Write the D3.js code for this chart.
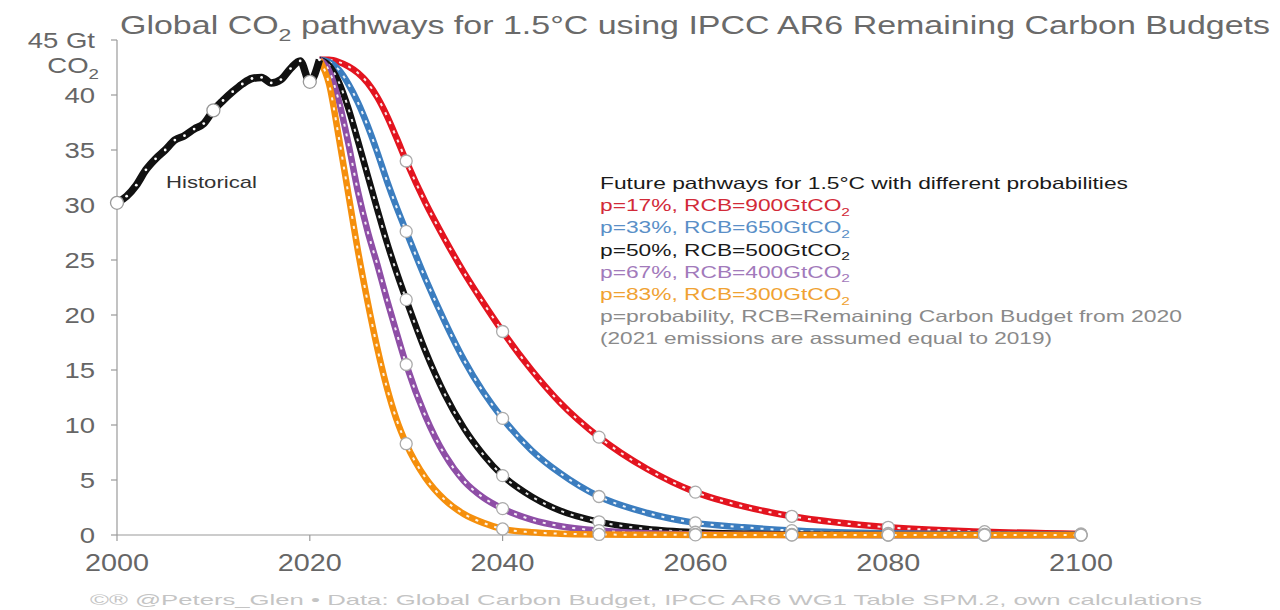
<!DOCTYPE html>
<html><head><meta charset="utf-8">
<script src="https://cdn.jsdelivr.net/npm/d3@7"></script>
<style>
html,body{margin:0;padding:0;background:#fff;}
svg{display:block;font-family:"Liberation Sans",Arial,Helvetica,sans-serif;}
</style></head>
<body>
<svg id="chart" width="1280" height="610"></svg>
<script>
// ---------------- data ----------------
const histYears = [2000,2001,2002,2003,2004,2005,2006,2007,2008,2009,2010,2011,2012,2013,2014,2015,2016,2017,2018,2019,2020,2021];
const histValues = [30.2,30.8,31.8,33.2,34.2,35.0,35.9,36.3,36.9,37.4,38.6,39.5,40.3,41.0,41.5,41.6,41.1,41.4,42.4,43.1,41.2,43.2];

const futureYears = [2021,2022,2023,2024,2025,2026,2027,2028,2029,2030,2032,2034,2036,2038,2040,2043,2046,2050,2055,2060,2065,2070,2080,2090,2100];
const p17 = [43.2,43.2,43.0,42.6,42.0,41.1,39.8,38.1,36.1,34.0,30.2,26.9,23.85,21.1,18.5,15.0,12.0,8.9,6.0,3.9,2.6,1.7,0.7,0.3,0.1];
const p33 = [43.2,43.0,42.3,41.0,39.3,37.2,34.8,32.2,29.8,27.6,23.3,19.4,15.9,13.0,10.6,7.7,5.6,3.5,2.0,1.1,0.7,0.4,0.15,0.05,0.02];
const p50 = [43.2,42.7,41.2,38.8,35.8,32.7,29.6,26.6,23.9,21.4,16.7,12.8,9.7,7.3,5.4,3.5,2.2,1.2,0.55,0.25,0.12,0.05,0.01,0,0];
const p67 = [43.2,42.2,39.5,35.6,31.2,27.6,24.6,21.4,18.4,15.5,10.8,7.3,4.9,3.4,2.4,1.4,0.8,0.4,0.15,0.06,0.02,0.01,0,0,0];
const p83 = [43.2,41.0,36.2,31.0,25.8,21.2,17.0,13.4,10.5,8.3,5.2,3.2,1.9,1.1,0.55,0.25,0.12,0.05,0.02,0.01,0,0,0,0,0];

const scenarioNames = ["p=17%, RCB=900GtCO","p=33%, RCB=650GtCO","p=50%, RCB=500GtCO","p=67%, RCB=400GtCO","p=83%, RCB=300GtCO"];
const scenarioSeries = [p17,p33,p50,p67,p83];
const lineColors = ["#e3141f","#3b7dbf","#111111","#8e4ea6","#f58f0c"];
const textColors = ["#d22a38","#5a8fc7","#1a1a1a","#a27abb","#f0a232"];

const markerYearsHist = [2000,2010,2020];
const markerYearsFuture = [2030,2040,2050,2060,2070,2080,2090,2100];

const yTicks = [0,5,10,15,20,25,30,35,40];
const xTicks = [2000,2020,2040,2060,2080,2100];

// ---------------- layout ----------------
const svg = d3.select("#chart");
const x = d3.scaleLinear().domain([2000,2100]).range([117,1081]);
const y = d3.scaleLinear().domain([0,45]).range([535,40]);

function stretch(sel, target){ // target width in px, or factor if <5
  sel.each(function(){
    const w = this.getComputedTextLength();
    const t = target < 5 ? w*target : target;
    this.setAttribute("textLength", t);
    this.setAttribute("lengthAdjust","spacingAndGlyphs");
  });
}
function rich(sel, parts, fs){
  let back = 0;
  parts.forEach(p=>{
    if (typeof p === "string") {
      const t = sel.append("tspan").text(p);
      if (back) { t.attr("dy", -back); back = 0; }
    } else {
      sel.append("tspan").attr("dy", fs*0.28).attr("font-size", fs*0.68).text(p.sub);
      back = fs*0.28;
    }
  });
}

// axes
const axisColor = "#9a9a9a";
svg.append("line").attr("x1",x(2000)).attr("x2",x(2000)).attr("y1",y(45)).attr("y2",y(0))
  .attr("stroke",axisColor).attr("stroke-width",1.2);
svg.append("line").attr("x1",x(2000)).attr("x2",x(2100)).attr("y1",y(0)).attr("y2",y(0))
  .attr("stroke",axisColor).attr("stroke-width",1.2);
[...yTicks,45].forEach(v=>{
  svg.append("line").attr("x1",x(2000)-6).attr("x2",x(2000)).attr("y1",y(v)).attr("y2",y(v))
    .attr("stroke",axisColor).attr("stroke-width",1.2);
});
xTicks.forEach(v=>{
  svg.append("line").attr("x1",x(v)).attr("x2",x(v)).attr("y1",y(0)).attr("y2",y(0)+6)
    .attr("stroke",axisColor).attr("stroke-width",1.2);
});
const yl = svg.append("g").attr("fill","#666").attr("font-size",22).attr("text-anchor","end");
yTicks.forEach(v=>{
  yl.append("text").attr("x",95).attr("y",y(v)).attr("dy","0.36em").text(v).call(stretch,1.25);
});
yl.append("text").attr("x",95).attr("y",y(45)).attr("dy","0.36em").text("45 Gt").call(stretch,1.25);
const co2 = yl.append("text").attr("x",99).attr("y",y(45)+33);
rich(co2,["CO",{sub:"2"}],22); co2.call(stretch,1.25);

const xl = svg.append("g").attr("fill","#666").attr("font-size",23).attr("text-anchor","middle");
xTicks.forEach(v=>{
  xl.append("text").attr("x",x(v)).attr("y",571).text(v).call(stretch,64);
});

// title
const title = svg.append("text").attr("x",120).attr("y",34).attr("font-size",25).attr("fill","#6a6a6a");
rich(title,["Global CO",{sub:"2"}," pathways for 1.5\u00B0C using IPCC AR6 Remaining Carbon Budgets"],25);
title.call(stretch,1150);

// lines
const lineGen = d3.line().x(d=>x(d[0])).y(d=>y(d[1])).curve(d3.curveMonotoneX);
const gLines = svg.append("g");
scenarioSeries.forEach((s,i)=>{
  const pts = futureYears.map((yr,j)=>[yr,s[j]]);
  gLines.append("path").attr("d",lineGen(pts)).attr("fill","none")
    .attr("stroke",lineColors[i]).attr("stroke-width",6.5);
  gLines.append("path").attr("d",lineGen(pts)).attr("fill","none")
    .attr("stroke","#fff").attr("stroke-width",2).attr("stroke-dasharray","3 7").attr("opacity",0.9);
});
const histPts = histYears.map((yr,j)=>[yr,histValues[j]]);
const histLine = d3.line().x(d=>x(d[0])).y(d=>y(d[1])).curve(d3.curveMonotoneX);
gLines.append("path").attr("d",histLine(histPts)).attr("fill","none")
  .attr("stroke","#111").attr("stroke-width",7.5).attr("stroke-linejoin","round");
gLines.selectAll("circle.hd").data(histPts).join("circle").attr("class","hd")
  .attr("cx",d=>x(d[0])).attr("cy",d=>y(d[1])).attr("r",1.4).attr("fill","#fff");

// large markers
const gM = svg.append("g");
scenarioSeries.forEach((s,i)=>{
  const interp = d3.scaleLinear().domain(futureYears).range(s);
  markerYearsFuture.forEach(yr=>{
    gM.append("circle").attr("cx",x(yr)).attr("cy",y(interp(yr))).attr("r",6)
      .attr("fill","#fff").attr("stroke","#aaa").attr("stroke-width",1.3);
  });
});
markerYearsHist.forEach(yr=>{
  const v = histValues[histYears.indexOf(yr)];
  gM.append("circle").attr("cx",x(yr)).attr("cy",y(v)).attr("r",6.5)
    .attr("fill","#fff").attr("stroke","#999").attr("stroke-width",1.3);
});

// labels
svg.append("text").attr("x",166).attr("y",188).attr("font-size",17).attr("fill","#333")
  .text("Historical").call(stretch,91);

const lg = svg.append("g").attr("font-size",16.5);
const lx = 600, lb = 189, ls = 22.2;
lg.append("text").attr("x",lx).attr("y",lb).attr("fill","#1a1a1a")
  .text("Future pathways for 1.5\u00B0C with different probabilities").call(stretch,528);
scenarioNames.forEach((n,i)=>{
  const t = lg.append("text").attr("x",lx).attr("y",lb+ls*(i+1)).attr("fill",textColors[i]);
  rich(t,[n,{sub:"2"}],16.5); t.call(stretch,250);
});
lg.append("text").attr("x",lx).attr("y",lb+ls*6).attr("fill","#8a8a8a")
  .text("p=probability, RCB=Remaining Carbon Budget from 2020").call(stretch,582);
lg.append("text").attr("x",lx).attr("y",lb+ls*7).attr("fill","#8a8a8a")
  .text("(2021 emissions are assumed equal to 2019)").call(stretch,452);

// footer
svg.append("text").attr("x",90).attr("y",605).attr("font-size",15).attr("fill","#c4c4c4")
  .text("\u00A9\u00AE @Peters_Glen \u2022 Data: Global Carbon Budget, IPCC AR6 WG1 Table SPM.2, own calculations")
  .call(stretch,1112);
</script>
</body></html>
